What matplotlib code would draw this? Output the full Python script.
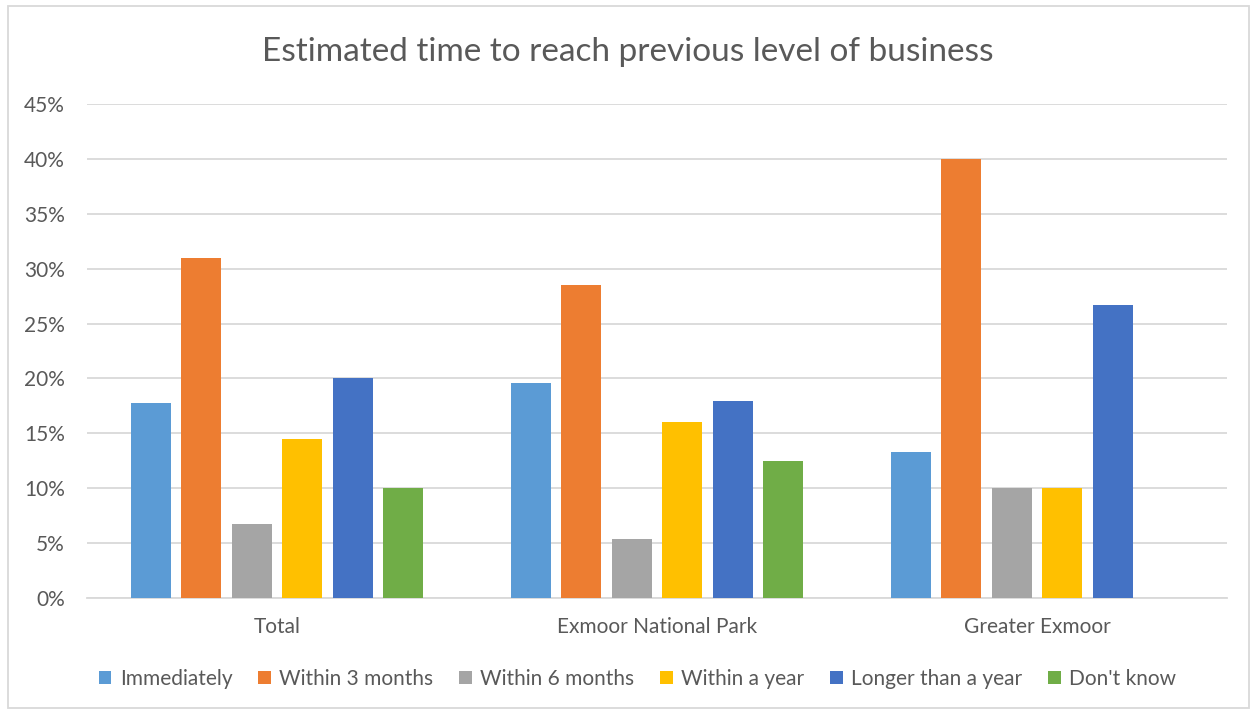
import matplotlib
matplotlib.use('Agg')
import matplotlib.pyplot as plt
import matplotlib.ticker as ptick
import numpy as np

plt.rcParams['font.family'] = ['Lato', 'DejaVu Sans']

# data
regions = ['Total', 'Exmoor National Park', 'Greater Exmoor']
series = ['Immediately', 'Within 3 months', 'Within 6 months',
          'Within a year', 'Longer than a year', "Don't know"]
immediately = [17.8, 19.6, 13.3]
within_3m = [31.0, 28.5, 40.0]
within_6m = [6.7, 5.4, 10.0]
within_year = [14.5, 16.0, 10.0]
longer_year = [20.0, 17.9, 26.7]
dont_know = [10.0, 12.5, 0.0]
yticks = [0, 5, 10, 15, 20, 25, 30, 35, 40, 45]

values = [immediately, within_3m, within_6m, within_year, longer_year, dont_know]
colors = ['#5B9BD5', '#ED7D31', '#A5A5A5', '#FFC000', '#4472C4', '#70AD47']
txt = '#595959'

fig = plt.figure(figsize=(12.55, 7.14), dpi=100)
ax = fig.add_axes([87/1255, 1 - 598/714, 1140/1255, 494/714])

x = np.arange(len(regions))
pitch = 50.5/380
width = 40/380
for i, (vals, col, lab) in enumerate(zip(values, colors, series)):
    ax.bar(x + (i - 2.5)*pitch, vals, width, color=col, label=lab, zorder=3)

ax.set_xlim(-0.5, 2.5)
ax.set_ylim(0, 45)
ax.set_yticks(yticks)
ax.yaxis.set_major_formatter(ptick.FuncFormatter(lambda v, p: '{:.0f}%'.format(v)))
ax.set_xticks(x)
ax.set_xticklabels(regions)
ax.grid(axis='y', color='#D9D9D9', linewidth=1.3, zorder=0)
for s in ['top', 'right', 'left']:
    ax.spines[s].set_visible(False)
ax.spines['bottom'].set_color('#D9D9D9')
ax.spines['bottom'].set_linewidth(1.3)
ax.tick_params(axis='both', length=0, labelsize=15, colors=txt)
ax.tick_params(axis='y', pad=16)
ax.tick_params(axis='x', pad=14)

fig.text(0.5, 1 - 52/714, 'Estimated time to reach previous level of business',
         ha='center', va='center', fontsize=24, color=txt)

handles, labels = ax.get_legend_handles_labels()
fig.legend(handles, labels, loc='center', ncol=6, bbox_to_anchor=(0.508, 1 - 679/714),
           frameon=False, fontsize=15, labelcolor=txt, handlelength=0.6,
           handleheight=0.6, handletextpad=0.4, columnspacing=1.25)

fig.patches.append(plt.Rectangle((8/1255, 6/714), 1241/1255, 702/714, transform=fig.transFigure,
                                 fill=False, edgecolor='#D9D9D9', linewidth=1.3))

fig.savefig('out.png', dpi=100)
